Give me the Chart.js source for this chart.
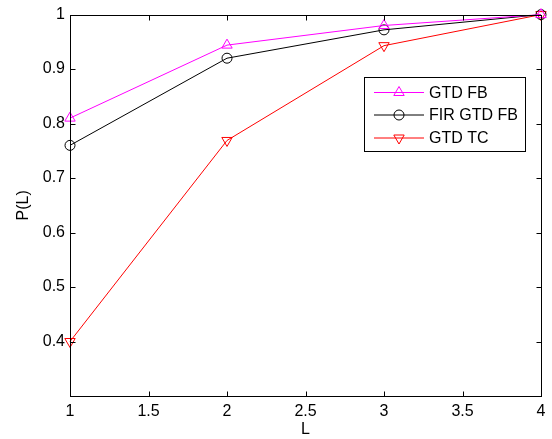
<!DOCTYPE html>
<html>
<head>
<meta charset="utf-8">
<script src="https://cdn.jsdelivr.net/npm/chart.js@4.4.1/dist/chart.umd.min.js"></script>
<style>
  html, body { margin: 0; padding: 0; background: #fff; }
  #wrap { width: 552px; height: 439px; }
</style>
</head>
<body>
<div id="wrap"><canvas id="myChart" width="552" height="439"></canvas></div>
<script>
const L = [1, 2, 3, 4];
const gtdFb = [0.81, 0.944, 0.98, 1.0];
const firGtdFb = [0.76, 0.92, 0.972, 1.0];
const gtdTc = [0.4, 0.769, 0.943, 1.0];
const seriesNames = ['GTD FB', 'FIR GTD FB', 'GTD TC'];

const FONT = "'Liberation Sans', Arial, sans-serif";
Chart.defaults.font.family = FONT;
Chart.defaults.font.size = 16;
Chart.defaults.color = '#000';

function toPoints(ys) {
  return L.map((x, i) => ({ x: x, y: ys[i] }));
}

function drawMarker(ctx, style, x, y, r, rot) {
  ctx.beginPath();
  if (style === 'circle') {
    ctx.arc(x, y, r, 0, Math.PI * 2);
  } else {
    let a = rot * Math.PI / 180;
    for (let k = 0; k < 3; k++) {
      const px = x + Math.sin(a) * r;
      const py = y - Math.cos(a) * r;
      if (k === 0) ctx.moveTo(px, py); else ctx.lineTo(px, py);
      a += Math.PI * 2 / 3;
    }
    ctx.closePath();
  }
  ctx.stroke();
}

// matlab style box, inward ticks and legend inside the axes
const matlabBox = {
  id: 'matlabBox',
  afterDraw(chart) {
    const ctx = chart.ctx;
    const a = chart.chartArea;
    const xs = chart.scales.x, ys = chart.scales.y;
    const tl = 5;
    ctx.save();
    ctx.strokeStyle = '#000';
    ctx.lineWidth = 1;
    const l = Math.round(a.left) + 0.5, r = Math.round(a.right) + 0.5;
    const t = Math.round(a.top) + 0.5, b = Math.round(a.bottom) + 0.5;
    ctx.strokeRect(l, t, r - l, b - t);
    ctx.beginPath();
    xs.ticks.forEach(tk => {
      const px = Math.round(xs.getPixelForValue(tk.value)) + 0.5;
      ctx.moveTo(px, b); ctx.lineTo(px, b - tl);
      ctx.moveTo(px, t); ctx.lineTo(px, t + tl);
    });
    ys.ticks.forEach(tk => {
      const py = Math.round(ys.getPixelForValue(tk.value)) + 0.5;
      ctx.moveTo(l, py); ctx.lineTo(l + tl, py);
      ctx.moveTo(r, py); ctx.lineTo(r - tl, py);
    });
    ctx.stroke();

    // legend
    const bx = 364.5, by = 77.5, bw = 161, bh = 74;
    ctx.fillStyle = '#fff';
    ctx.fillRect(bx, by, bw, bh);
    ctx.strokeRect(bx, by, bw, bh);
    const rows = [92.5, 115, 138];
    ctx.font = '16px ' + FONT;
    ctx.textBaseline = 'middle';
    chart.data.datasets.forEach((ds, i) => {
      const y = rows[i];
      ctx.strokeStyle = ds.borderColor;
      ctx.beginPath();
      ctx.moveTo(374, y); ctx.lineTo(424, y);
      ctx.stroke();
      drawMarker(ctx, ds.pointStyle, 399, y, ds.pointRadius, ds.pointRotation || 0);
      ctx.fillStyle = '#000';
      ctx.fillText(ds.label, 429, y + 1);
    });
    ctx.restore();
  }
};

const common = {
  showLine: true,
  borderWidth: 1,
  pointBackgroundColor: 'rgba(0,0,0,0)',
  pointBorderWidth: 1,
  tension: 0,
  fill: false,
  clip: false
};

new Chart(document.getElementById('myChart'), {
  type: 'scatter',
  data: {
    datasets: [
      Object.assign({}, common, {
        label: seriesNames[0], data: toPoints(gtdFb),
        borderColor: '#ff00ff', pointBorderColor: '#ff00ff',
        pointStyle: 'triangle', pointRadius: 6
      }),
      Object.assign({}, common, {
        label: seriesNames[1], data: toPoints(firGtdFb),
        borderColor: '#000000', pointBorderColor: '#000000',
        pointStyle: 'circle', pointRadius: 5
      }),
      Object.assign({}, common, {
        label: seriesNames[2], data: toPoints(gtdTc),
        borderColor: '#ff0000', pointBorderColor: '#ff0000',
        pointStyle: 'triangle', pointRotation: 180, pointRadius: 6
      })
    ]
  },
  options: {
    responsive: false,
    animation: false,
    layout: { padding: { top: 13, right: 11, left: 0, bottom: 0 } },
    plugins: {
      legend: { display: false },
      tooltip: { enabled: false }
    },
    scales: {
      x: {
        type: 'linear',
        min: 1, max: 4,
        grid: { display: false, drawTicks: false },
        border: { display: false },
        ticks: { stepSize: 0.5, padding: 6, maxRotation: 0,
          callback: v => String(+v.toFixed(1)) },
        title: { display: true, text: 'L', padding: { top: 0, bottom: 0 } },
        afterFit: s => { s.height = 43; }
      },
      y: {
        min: 0.3, max: 1,
        grid: { display: false, drawTicks: false },
        border: { display: false },
        ticks: { stepSize: 0.1, padding: 5,
          callback: v => v < 0.35 ? '' : String(+v.toFixed(1)) },
        title: { display: true, text: 'P(L)', padding: { top: 14, bottom: 0 } },
        afterFit: s => { s.width = 70; }
      }
    }
  },
  plugins: [matlabBox]
});
</script>
</body>
</html>
